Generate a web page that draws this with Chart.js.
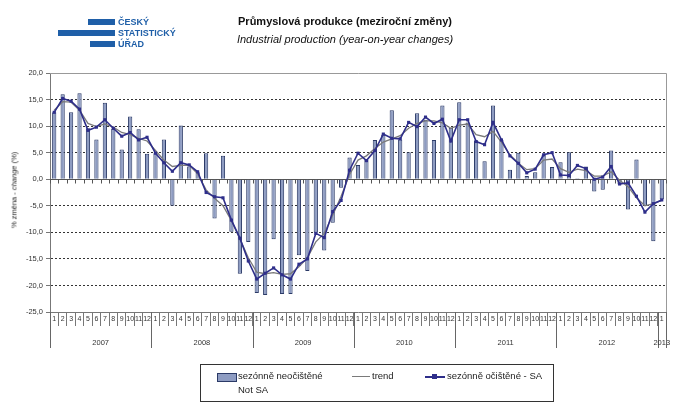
<!DOCTYPE html>
<html lang="cs">
<head>
<meta charset="UTF-8">
<title>Průmyslová produkce</title>
<script src="https://cdn.jsdelivr.net/npm/chart.js"></script>
<style>
    body {
        margin: 0;
        background: #ffffff;
        font-family: Arial, 'Liberation Sans', sans-serif;
    }
    .wrap {
        position: relative;
        width: 688px;
        height: 412px;
        overflow: hidden;
    }
    #chart {
        position: absolute;
        left: 0;
        top: 0;
    }
    /* logo */
    .logo-bar {
        position: absolute;
        background: #1f5fa8;
        height: 6px;
    }
    .logo-text {
        position: absolute;
        left: 118px;
        color: #1f5fa8;
        font-weight: bold;
        font-size: 9px;
        line-height: 11px;
    }
    .title {
        position: absolute;
        left: 130px;
        width: 430px;
        top: 12px;
        text-align: center;
        font-size: 11px;
        line-height: 18px;
        color: #111;
    }
    .ytitle {
        position: absolute;
        left: 14px;
        top: 190px;
        transform: translate(-50%, -50%) rotate(-90deg);
        white-space: nowrap;
        font-size: 7.5px;
        color: #222;
    }
    .legend {
        position: absolute;
        left: 200px;
        top: 364px;
        width: 352px;
        height: 36px;
        border: 1px solid #333;
        font-size: 9.5px;
        color: #222;
    }
    .legend span { position: absolute; white-space: nowrap; }
</style>
</head>
<body>
<div class="wrap">
    <canvas id="chart" width="688" height="412"></canvas>

    <div class="logo-bar" style="left:88px; top:19px; width:27px;"></div>
    <div class="logo-bar" style="left:58px; top:30px; width:57px;"></div>
    <div class="logo-bar" style="left:90px; top:41px; width:25px;"></div>
    <div class="logo-text" style="top:17px;">ČESKÝ<br>STATISTICKÝ<br>ÚŘAD</div>

    <div class="title">
        <b>Průmyslová produkce (meziroční změny)</b><br>
        <i>Industrial production (year-on-year changes)</i>
    </div>

    <div class="ytitle">% změna - <i>change</i> (%)</div>

    <div class="legend">
        <span style="left:16px; top:8px; width:18px; height:7px; background:#8e9cc2; border:1px solid #2b3a67;"></span>
        <span style="left:37px; top:5px;">sezónně neočištěné</span>
        <span style="left:37px; top:19px;">Not SA</span>
        <span style="left:151px; top:11px; width:18px; height:0; border-top:1.5px solid #7a7a7a;"></span>
        <span style="left:171px; top:5px;">trend</span>
        <span style="left:224px; top:11px; width:20px; height:0; border-top:2px solid #2e2e8a;"></span>
        <span style="left:231px; top:9px; width:5px; height:5px; background:#2e2e8a;"></span>
        <span style="left:246px; top:5px;">sezónně očištěné - SA</span>
    </div>
</div>

<script>
    // months 2007-01 .. 2013-01
    const years = ['2007', '2008', '2009', '2010', '2011', '2012', '2013'];
    const months = [];
    years.forEach((y, i) => {
        const n = i < 6 ? 12 : 1;
        for (let m = 1; m <= n; m++) months.push(String(m));
    });

    // sezónně neočištěné (bars)
    const notSA = [
        12.6, 16.0, 12.6, 16.2, 9.6, 7.5, 14.4, 9.5, 5.6, 11.8, 9.4, 4.8,
        4.9, 7.5, -5.0, 10.1, 2.4, 1.3, 4.9, -7.4, 4.4, -9.9, -17.8, -11.8,
        -21.4, -21.8, -11.3, -21.6, -21.6, -14.3, -17.3, -10.1, -13.4, -8.2, -1.6, 4.1,
        2.7, 3.6, 7.4, 8.4, 13.0, 7.5, 5.1, 12.4, 11.2, 7.4, 13.9, 9.7,
        14.5, 10.7, 7.3, 3.4, 13.9, 7.4, 1.8, 5.0, 0.6, 1.3, 4.6, 2.3,
        3.2, 5.1, 0.2, 2.4, -2.3, -2.0, 5.4, -1.0, -5.7, 3.7, -5.0, -11.7,
        -3.8
    ];

    // trend
    const trend = [
        13.0, 14.6, 14.5, 13.0, 10.5, 9.9, 10.4, 9.8, 8.8, 8.4, 7.7, 7.2,
        5.4, 3.6, 2.4, 2.6, 2.6, 1.0, -2.0, -3.6, -5.0, -7.8, -11.2, -14.8,
        -17.5, -17.8, -17.6, -17.9, -17.8, -16.5, -14.8, -11.8, -10.2, -6.8, -3.2, 0.9,
        3.6, 4.4, 5.8, 7.0, 7.6, 8.2, 9.6, 10.5, 11.0, 11.0, 10.6, 9.6,
        10.2, 10.4, 8.4, 8.0, 9.0, 7.0, 4.6, 3.0, 1.8, 2.0, 3.6, 3.8,
        2.0, 1.3, 1.9, 1.6, 0.6, 0.6, 1.4, -0.2, -1.4, -3.5, -5.0, -4.6,
        -4.0
    ];

    // sezónně očištěné - SA
    const sa = [
        12.6, 15.2, 14.7, 13.2, 9.2, 9.8, 11.2, 9.6, 8.1, 8.8, 7.4, 7.9,
        4.9, 3.1, 1.5, 3.1, 2.7, 1.4, -2.5, -3.3, -3.5, -7.7, -11.1, -15.4,
        -18.8, -17.7, -16.7, -18.0, -18.8, -16.0, -15.0, -10.2, -11.0, -6.1, -4.0, 1.7,
        4.9, 3.5, 5.4, 8.5, 7.7, 7.6, 10.7, 9.9, 11.7, 10.5, 11.3, 7.2,
        11.2, 11.2, 7.1, 6.5, 10.7, 7.4, 4.4, 3.0, 1.2, 1.9, 4.6, 5.0,
        0.8, 0.7, 2.6, 2.0, 0.0, 0.4, 2.4, -0.9, -0.7, -3.2, -6.2, -4.6,
        -3.9
    ];

    Chart.defaults.font.family = "Arial, 'Liberation Sans', sans-serif";
    Chart.defaults.color = '#333';

    // plot frame, zero axis with small ticks, year row under the month labels
    const axisExtras = {
        id: 'axisExtras',
        beforeDatasetsDraw(chart) {
            const { ctx, chartArea, scales } = chart;
            const x = scales.x, y = scales.y;
            const step = x.getPixelForValue(1) - x.getPixelForValue(0);
            const y0 = Math.round(y.getPixelForValue(0)) + 0.5;
            ctx.save();
            ctx.lineWidth = 1;
            ctx.strokeStyle = '#999';
            ctx.beginPath();
            ctx.moveTo(chartArea.left, Math.round(chartArea.top) + 0.5);
            ctx.lineTo(Math.round(chartArea.right) + 0.5, Math.round(chartArea.top) + 0.5);
            ctx.lineTo(Math.round(chartArea.right) + 0.5, chartArea.bottom);
            ctx.stroke();
            ctx.strokeStyle = '#555';
            ctx.beginPath();
            ctx.moveTo(chartArea.left, y0);
            ctx.lineTo(chartArea.right, y0);
            for (let i = 0; i <= months.length; i++) {
                const px = Math.round(x.getPixelForValue(i) - step / 2) + 0.5;
                ctx.moveTo(px, y0);
                ctx.lineTo(px, y0 + 4);
            }
            ctx.stroke();
            ctx.restore();
        },
        afterDraw(chart) {
            const { ctx, chartArea, scales } = chart;
            const x = scales.x;
            const step = x.getPixelForValue(1) - x.getPixelForValue(0);
            ctx.save();
            ctx.strokeStyle = '#666';
            ctx.lineWidth = 1;
            ctx.fillStyle = '#333';
            ctx.font = "7.5px Arial, 'Liberation Sans', sans-serif";
            ctx.textAlign = 'center';
            ctx.textBaseline = 'middle';
            let start = 0;
            years.forEach(yr => {
                const n = yr === '2013' ? 1 : 12;
                const left = x.getPixelForValue(start) - step / 2;
                const right = x.getPixelForValue(start + n - 1) + step / 2;
                ctx.beginPath();
                ctx.moveTo(Math.round(left) + 0.5, chartArea.bottom);
                ctx.lineTo(Math.round(left) + 0.5, chartArea.bottom + 36);
                ctx.stroke();
                ctx.fillText(yr, (left + right) / 2, chartArea.bottom + 31);
                start += n;
            });
            const r = Math.round(chartArea.right) + 0.5;
            ctx.beginPath();
            ctx.moveTo(r, chartArea.bottom);
            ctx.lineTo(r, chartArea.bottom + 36);
            ctx.stroke();
            ctx.restore();
        }
    };

    new Chart(document.getElementById('chart'), {
        type: 'bar',
        data: {
            labels: months,
            datasets: [
                {
                    label: 'sezónně očištěné - SA',
                    type: 'line',
                    data: sa,
                    borderColor: '#2e2e8a',
                    backgroundColor: '#2e2e8a',
                    borderWidth: 1.6,
                    pointStyle: 'rect',
                    pointRadius: 2.2,
                    pointBorderWidth: 0,
                    order: 1
                },
                {
                    label: 'trend',
                    type: 'line',
                    data: trend,
                    borderColor: '#7a7a7a',
                    borderWidth: 1.3,
                    pointRadius: 0,
                    order: 2
                },
                {
                    label: 'sezónně neočištěné',
                    data: notSA,
                    backgroundColor: '#8e9cc2',
                    borderColor: '#2b3a67',
                    borderWidth: 1,
                    barPercentage: 0.5,
                    categoryPercentage: 1.0,
                    order: 3
                }
            ]
        },
        options: {
            responsive: false,
            animation: false,
            layout: { padding: { left: 0, top: 73, right: 22, bottom: 0 } },
            plugins: {
                legend: { display: false },
                tooltip: { enabled: false }
            },
            scales: {
                x: {
                    offset: true,
                    grid: {
                        offset: true,
                        drawOnChartArea: false,
                        drawTicks: true,
                        tickLength: 14,
                        color: '#777'
                    },
                    border: { display: true, color: '#777' },
                    ticks: {
                        autoSkip: false,
                        maxRotation: 0,
                        padding: -11,
                        font: { size: 7 },
                        color: '#333'
                    },
                    afterFit: s => { s.height = 100; }
                },
                y: {
                    min: -25,
                    max: 20,
                    ticks: {
                        stepSize: 5,
                        font: { size: 7.5 },
                        color: '#333',
                        padding: 3,
                        callback: v => v.toFixed(1).replace('.', ',')
                    },
                    grid: {
                        color: ctx => (ctx.tick && (ctx.tick.value === 20 || ctx.tick.value === 0)) ? 'rgba(0,0,0,0)' : '#333',
                        tickLength: 4,
                        tickColor: '#777',
                        tickBorderDash: []
                    },
                    border: { display: true, color: '#777', dash: [2, 2] },
                    afterFit: s => { s.width = 50; }
                }
            }
        },
        plugins: [axisExtras]
    });
</script>
</body>
</html>
